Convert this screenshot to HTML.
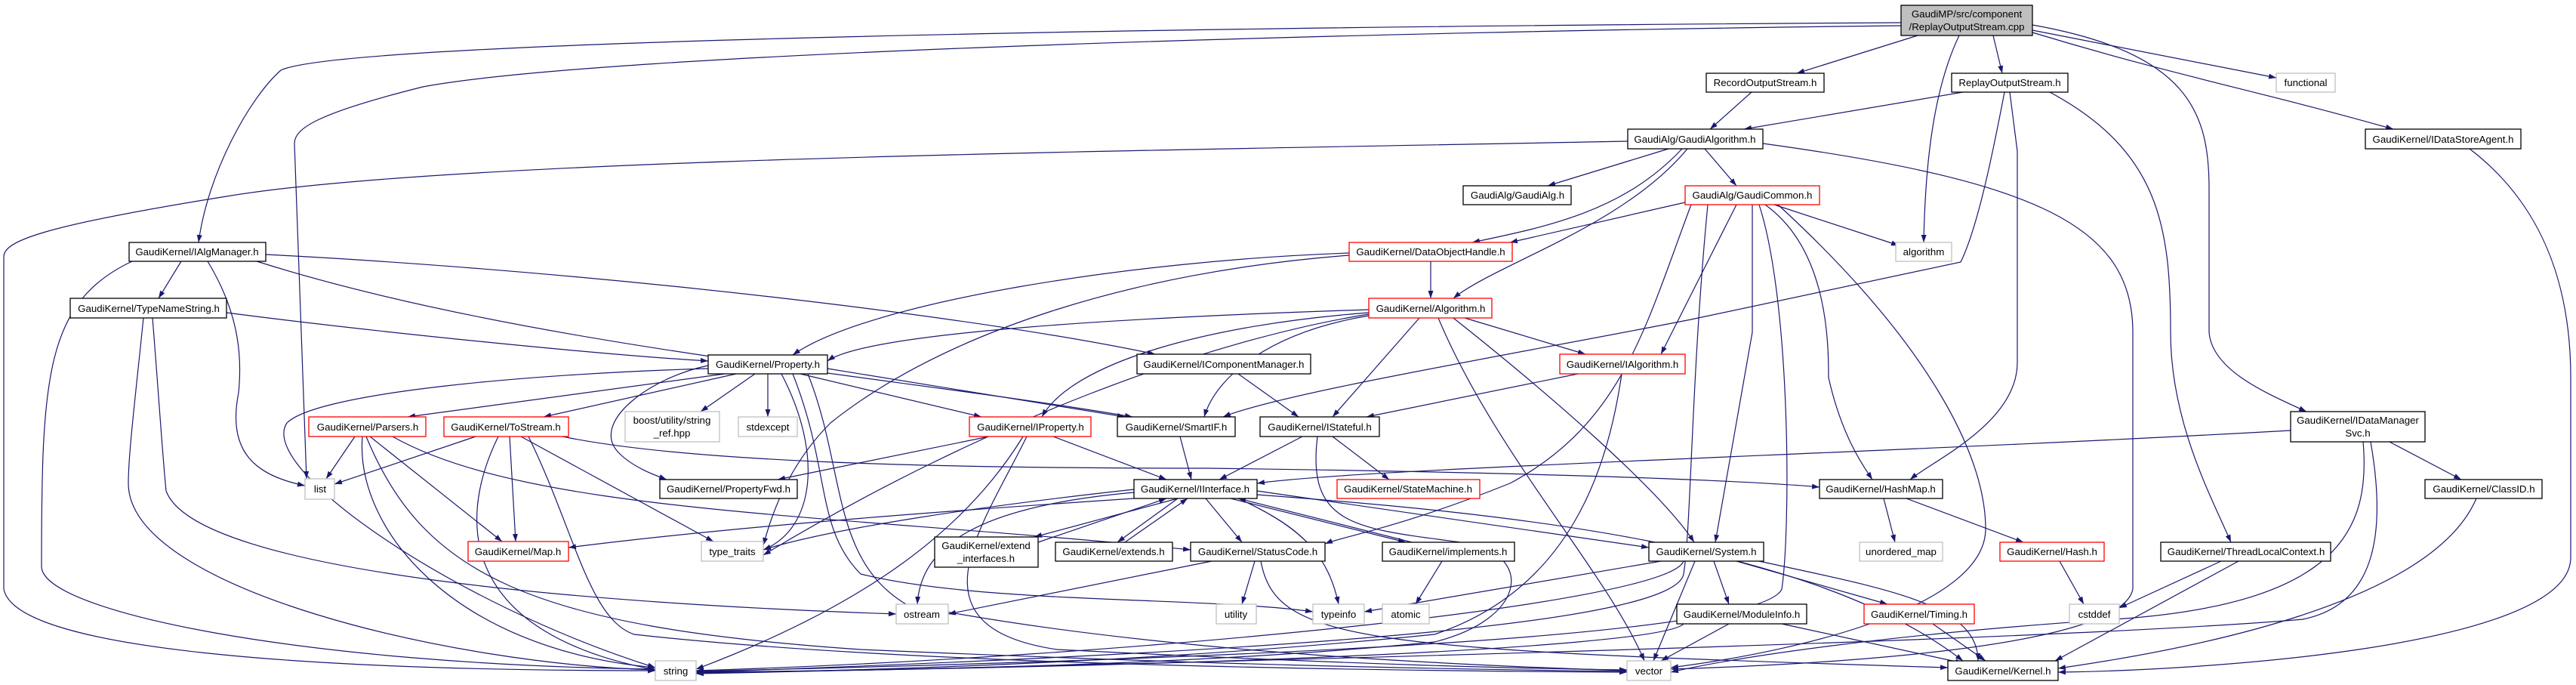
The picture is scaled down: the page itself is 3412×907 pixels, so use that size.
<!DOCTYPE html>
<html><head><meta charset="utf-8"><style>
html,body{margin:0;padding:0;background:#fff;}
svg{display:block;}
text{font-family:"Liberation Sans",Arial,sans-serif;font-size:13.3px;fill:#000;}
</style></head><body>
<svg width="3412" height="907" viewBox="0 0 3412 907" xmlns="http://www.w3.org/2000/svg">
<defs>
<marker id="a" viewBox="0 0 10 10" refX="10" refY="5" markerWidth="10" markerHeight="10" markerUnits="userSpaceOnUse" orient="auto">
<path d="M0,1.5 L10,5 L0,8.5 z" fill="#191970"/>
</marker>
</defs>
<g fill="none" stroke="#191970" stroke-width="1.2" marker-end="url(#a)">
<path d="M2540,47 L2380,97"/>
<path d="M2640,47 L2652,97"/>
<path d="M2692,40 L3015,103"/>
<path d="M2692,43 C2880,100 2990,120 3170,171"/>
<path d="M2692,33 C2900,70 2926,150 2926,250 L2926,440 C2930,490 3000,520 3055,545"/>
<path d="M2595,47 C2560,120 2550,220 2548,321"/>
<path d="M2518,30 C1500,36 450,55 372,93 C330,130 275,230 263,321"/>
<path d="M2518,34 C1800,42 800,70 560,115 C420,150 390,170 390,190 L406,634"/>
<path d="M2320,122 L2265,171"/>
<path d="M2600,122 L2310,171"/>
<path d="M2662,122 L2672,200 L2672,480 C2672,560 2560,610 2530,635"/>
<path d="M2655,122 C2640,200 2620,300 2597,347 L2240,423 C2000,470 1700,520 1620,552"/>
<path d="M2715,122 C2860,200 2875,300 2875,440 C2875,560 2930,660 2955,718"/>
<path d="M2210,197 L2050,246"/>
<path d="M2228,197 C2150,280 2050,300 1950,321"/>
<path d="M2235,197 C2150,300 1980,350 1925,395"/>
<path d="M2258,197 L2300,246"/>
<path d="M2335,190 C2700,240 2825,300 2825,440 L2825,780 C2810,860 2400,880 2213,886"/>
<path d="M2156,187 C1500,200 600,210 300,260 C50,300 5,320 5,340 L5,780 C20,860 400,888 868,888"/>
<path d="M2232,268 L2000,321"/>
<path d="M2350,271 L2515,325"/>
<path d="M2300,271 L2200,469"/>
<path d="M2321,271 L2321,440 L2272,718"/>
<path d="M2330,271 C2372,400 2372,700 2360,780 C2330,850 1500,875 922,889"/>
<path d="M2338,271 C2420,330 2422,450 2422,500 C2440,580 2470,620 2480,635"/>
<path d="M2355,271 C2550,450 2630,600 2630,700 C2630,800 2400,860 2213,884"/>
<path d="M2240,271 C2180,430 2150,560 2000,640 C1850,700 1780,710 1755,720"/>
<path d="M2262,271 C2240,500 2240,700 2230,760 C2220,820 1800,860 922,890"/>
<path d="M1895,346 L1895,395"/>
<path d="M1787,335 C1500,345 1150,400 1050,470"/>
<path d="M1787,338 C1500,360 1250,440 1100,560 C1040,620 1020,690 1011,722"/>
<path d="M1813,410 C1500,420 1150,440 1096,478"/>
<path d="M1813,414 C1600,430 1420,480 1380,552"/>
<path d="M1813,418 C1680,440 1610,500 1595,552"/>
<path d="M1940,421 L2100,469"/>
<path d="M1880,421 L1765,552"/>
<path d="M1905,421 C1980,600 2130,760 2178,875"/>
<path d="M1925,421 C2050,520 2200,650 2244,718"/>
<path d="M1813,416 C1600,450 1300,560 1011,735"/>
<path d="M240,346 L210,395"/>
<path d="M175,346 C60,400 55,500 55,750 C55,810 400,880 868,886"/>
<path d="M275,346 C320,420 320,480 316,520 C300,600 340,630 404,643"/>
<path d="M352,337 C800,360 1300,420 1530,469"/>
<path d="M340,346 C700,460 1200,500 1500,552"/>
<path d="M300,414 C500,440 800,470 938,478"/>
<path d="M190,421 C180,520 170,600 170,640 C170,780 600,880 868,887"/>
<path d="M202,421 C210,520 215,600 220,650 C260,760 800,800 1187,813"/>
<path d="M960,495 L540,552"/>
<path d="M975,495 L720,552"/>
<path d="M1000,495 L928,545"/>
<path d="M1017,495 L1017,552"/>
<path d="M938,484 C860,500 780,560 820,600 C840,620 870,630 883,635"/>
<path d="M1060,495 L1300,552"/>
<path d="M1096,488 L1490,552"/>
<path d="M938,488 C700,495 420,520 380,560 C340,620 600,800 868,884"/>
<path d="M1035,495 C1090,600 1080,700 1011,728"/>
<path d="M1050,495 C1100,620 1080,700 1140,760 C1300,800 1600,790 1739,810"/>
<path d="M1070,495 C1120,620 1100,740 1200,800 C1500,860 1900,880 2155,888"/>
<path d="M470,578 L432,634"/>
<path d="M490,578 L665,717"/>
<path d="M480,578 C470,700 600,860 868,884"/>
<path d="M485,578 C560,760 700,830 1140,860 C1600,880 1900,886 2155,889"/>
<path d="M520,578 C700,680 1100,680 1577,728"/>
<path d="M630,578 L443,641"/>
<path d="M675,578 L683,717"/>
<path d="M660,578 C600,700 620,840 868,887"/>
<path d="M690,578 L945,717"/>
<path d="M700,578 C760,700 780,820 840,840 C1200,880 1800,888 2155,890"/>
<path d="M745,578 C900,610 1200,620 1600,620 C2000,625 2300,635 2410,645"/>
<path d="M1395,578 L1545,635"/>
<path d="M1310,578 L1030,635"/>
<path d="M1355,578 C1280,700 1150,800 922,886"/>
<path d="M1360,578 C1300,700 1200,830 1400,860 C1800,880 2000,885 2155,887"/>
<path d="M1563,578 L1578,635"/>
<path d="M1725,578 L1615,635"/>
<path d="M1765,578 L1840,635"/>
<path d="M1745,578 C1730,700 1800,700 1950,720 C2030,740 2020,820 1900,850 C1600,880 1200,888 922,890"/>
<path d="M1640,495 L1720,552"/>
<path d="M2090,495 L1810,552"/>
<path d="M2148,495 C2130,620 2080,780 1900,840 C1500,880 1100,889 922,891"/>
<path d="M3034,570 C2500,600 1800,620 1665,640"/>
<path d="M3165,585 L3260,635"/>
<path d="M3130,585 C3140,700 3100,800 2800,820 C2500,840 2300,870 2213,890"/>
<path d="M3140,585 C3160,700 3150,800 3050,820 C2700,850 1500,880 922,892"/>
<path d="M2495,660 L2510,718"/>
<path d="M2525,660 L2680,718"/>
<path d="M1375,718 L1545,660"/>
<path d="M1560,660 L1370,711"/>
<path d="M1490,718 L1573,660"/>
<path d="M1560,660 L1480,718"/>
<path d="M1870,718 L1640,660"/>
<path d="M1630,660 L1862,718"/>
<path d="M1597,660 L1645,718"/>
<path d="M1665,650 L2184,725"/>
<path d="M1665,655 C2000,680 2400,720 2600,875"/>
<path d="M1640,660 C1730,700 1760,740 1773,800"/>
<path d="M1502,652 C1300,670 1220,720 1215,800"/>
<path d="M1502,660 C1200,680 950,700 753,725"/>
<path d="M1502,648 C1300,670 1100,700 1011,728"/>
<path d="M1605,743 L1256,813"/>
<path d="M1662,743 L1645,800"/>
<path d="M1670,743 C1690,850 1800,860 2580,884"/>
<path d="M1910,743 L1875,800"/>
<path d="M2200,743 L1807,810"/>
<path d="M2230,743 C2210,800 1500,870 922,888"/>
<path d="M2245,743 L2190,875"/>
<path d="M2270,743 L2290,800"/>
<path d="M2300,743 L2500,800"/>
<path d="M2330,743 C2500,780 2620,800 2620,875"/>
<path d="M2290,826 L2200,875"/>
<path d="M2360,826 L2600,878"/>
<path d="M2230,826 C2200,860 1500,885 922,890"/>
<path d="M2560,826 L2630,875"/>
<path d="M2728,743 L2760,800"/>
<path d="M2942,743 L2807,805"/>
<path d="M2965,743 L2722,875"/>
<path d="M3280,660 C3220,800 2900,860 2726,885"/>
<path d="M3271,197 C3380,280 3405,400 3405,500 L3405,740 C3400,860 2900,888 2726,890"/>
</g>
<g stroke-width="1.3">
<rect x="2518" y="7" width="174" height="40" fill="#bfbfbf" stroke="#000"/>
<text x="2605" y="23" text-anchor="middle">GaudiMP/src/component</text>
<text x="2605" y="40" text-anchor="middle">/ReplayOutputStream.cpp</text>
<rect x="2260" y="97" width="156" height="25" fill="#fff" stroke="#000"/><text x="2338" y="114" text-anchor="middle">RecordOutputStream.h</text>
<rect x="2585" y="97" width="154" height="25" fill="#fff" stroke="#000"/><text x="2662" y="114" text-anchor="middle">ReplayOutputStream.h</text>
<rect x="3015" y="97" width="78" height="25" fill="#fff" stroke="#bfbfbf"/><text x="3054" y="114" text-anchor="middle">functional</text>
<rect x="3133" y="171" width="206" height="26" fill="#fff" stroke="#000"/><text x="3236" y="189" text-anchor="middle">GaudiKernel/IDataStoreAgent.h</text>
<rect x="2156" y="171" width="179" height="26" fill="#fff" stroke="#000"/><text x="2245" y="189" text-anchor="middle">GaudiAlg/GaudiAlgorithm.h</text>
<rect x="1938" y="246" width="143" height="25" fill="#fff" stroke="#000"/><text x="2010" y="263" text-anchor="middle">GaudiAlg/GaudiAlg.h</text>
<rect x="2232" y="246" width="178" height="25" fill="#fff" stroke="#f00"/><text x="2321" y="263" text-anchor="middle">GaudiAlg/GaudiCommon.h</text>
<rect x="2511" y="321" width="74" height="25" fill="#fff" stroke="#bfbfbf"/><text x="2548" y="338" text-anchor="middle">algorithm</text>
<rect x="1787" y="321" width="216" height="25" fill="#fff" stroke="#f00"/><text x="1895" y="338" text-anchor="middle">GaudiKernel/DataObjectHandle.h</text>
<rect x="1813" y="395" width="163" height="26" fill="#fff" stroke="#f00"/><text x="1895" y="413" text-anchor="middle">GaudiKernel/Algorithm.h</text>
<rect x="171" y="321" width="181" height="25" fill="#fff" stroke="#000"/><text x="261" y="338" text-anchor="middle">GaudiKernel/IAlgManager.h</text>
<rect x="93" y="395" width="207" height="26" fill="#fff" stroke="#000"/><text x="197" y="413" text-anchor="middle">GaudiKernel/TypeNameString.h</text>
<rect x="938" y="470" width="158" height="25" fill="#fff" stroke="#000"/><text x="1017" y="487" text-anchor="middle">GaudiKernel/Property.h</text>
<rect x="1506" y="469" width="230" height="26" fill="#fff" stroke="#000"/><text x="1621" y="487" text-anchor="middle">GaudiKernel/IComponentManager.h</text>
<rect x="2066" y="469" width="166" height="26" fill="#fff" stroke="#f00"/><text x="2149" y="487" text-anchor="middle">GaudiKernel/IAlgorithm.h</text>
<rect x="3034" y="545" width="178" height="40" fill="#fff" stroke="#000"/>
<text x="3123" y="561" text-anchor="middle">GaudiKernel/IDataManager</text>
<text x="3123" y="578" text-anchor="middle">Svc.h</text>
<rect x="409" y="552" width="155" height="26" fill="#fff" stroke="#f00"/><text x="487" y="570" text-anchor="middle">GaudiKernel/Parsers.h</text>
<rect x="588" y="552" width="165" height="26" fill="#fff" stroke="#f00"/><text x="670" y="570" text-anchor="middle">GaudiKernel/ToStream.h</text>
<rect x="828" y="545" width="125" height="40" fill="#fff" stroke="#bfbfbf"/>
<text x="890" y="561" text-anchor="middle">boost/utility/string</text>
<text x="890" y="578" text-anchor="middle">_ref.hpp</text>
<rect x="978" y="552" width="78" height="26" fill="#fff" stroke="#bfbfbf"/><text x="1017" y="570" text-anchor="middle">stdexcept</text>
<rect x="1284" y="552" width="161" height="26" fill="#fff" stroke="#f00"/><text x="1365" y="570" text-anchor="middle">GaudiKernel/IProperty.h</text>
<rect x="1480" y="552" width="156" height="26" fill="#fff" stroke="#000"/><text x="1558" y="570" text-anchor="middle">GaudiKernel/SmartIF.h</text>
<rect x="1669" y="552" width="158" height="26" fill="#fff" stroke="#000"/><text x="1748" y="570" text-anchor="middle">GaudiKernel/IStateful.h</text>
<rect x="404" y="634" width="39" height="27" fill="#fff" stroke="#bfbfbf"/><text x="424" y="652" text-anchor="middle">list</text>
<rect x="874" y="635" width="182" height="25" fill="#fff" stroke="#000"/><text x="965" y="652" text-anchor="middle">GaudiKernel/PropertyFwd.h</text>
<rect x="1502" y="635" width="163" height="25" fill="#fff" stroke="#000"/><text x="1583" y="652" text-anchor="middle">GaudiKernel/IInterface.h</text>
<rect x="1771" y="635" width="189" height="25" fill="#fff" stroke="#f00"/><text x="1865" y="652" text-anchor="middle">GaudiKernel/StateMachine.h</text>
<rect x="2410" y="635" width="163" height="25" fill="#fff" stroke="#000"/><text x="2491" y="652" text-anchor="middle">GaudiKernel/HashMap.h</text>
<rect x="3212" y="635" width="155" height="25" fill="#fff" stroke="#000"/><text x="3290" y="652" text-anchor="middle">GaudiKernel/ClassID.h</text>
<rect x="620" y="717" width="133" height="26" fill="#fff" stroke="#f00"/><text x="686" y="735" text-anchor="middle">GaudiKernel/Map.h</text>
<rect x="929" y="717" width="82" height="26" fill="#fff" stroke="#bfbfbf"/><text x="970" y="735" text-anchor="middle">type_traits</text>
<rect x="1238" y="711" width="137" height="40" fill="#fff" stroke="#000"/>
<text x="1306" y="727" text-anchor="middle">GaudiKernel/extend</text>
<text x="1306" y="744" text-anchor="middle">_interfaces.h</text>
<rect x="1398" y="718" width="155" height="25" fill="#fff" stroke="#000"/><text x="1475" y="735" text-anchor="middle">GaudiKernel/extends.h</text>
<rect x="1577" y="718" width="178" height="25" fill="#fff" stroke="#000"/><text x="1666" y="735" text-anchor="middle">GaudiKernel/StatusCode.h</text>
<rect x="1831" y="718" width="175" height="25" fill="#fff" stroke="#000"/><text x="1918" y="735" text-anchor="middle">GaudiKernel/implements.h</text>
<rect x="2184" y="718" width="152" height="25" fill="#fff" stroke="#000"/><text x="2260" y="735" text-anchor="middle">GaudiKernel/System.h</text>
<rect x="2463" y="718" width="110" height="25" fill="#fff" stroke="#bfbfbf"/><text x="2518" y="735" text-anchor="middle">unordered_map</text>
<rect x="2649" y="718" width="138" height="25" fill="#fff" stroke="#f00"/><text x="2718" y="735" text-anchor="middle">GaudiKernel/Hash.h</text>
<rect x="2862" y="718" width="225" height="25" fill="#fff" stroke="#000"/><text x="2975" y="735" text-anchor="middle">GaudiKernel/ThreadLocalContext.h</text>
<rect x="1187" y="800" width="69" height="26" fill="#fff" stroke="#bfbfbf"/><text x="1221" y="818" text-anchor="middle">ostream</text>
<rect x="1611" y="800" width="53" height="26" fill="#fff" stroke="#bfbfbf"/><text x="1637" y="818" text-anchor="middle">utility</text>
<rect x="1739" y="800" width="68" height="26" fill="#fff" stroke="#bfbfbf"/><text x="1773" y="818" text-anchor="middle">typeinfo</text>
<rect x="1831" y="800" width="62" height="26" fill="#fff" stroke="#bfbfbf"/><text x="1862" y="818" text-anchor="middle">atomic</text>
<rect x="2221" y="800" width="172" height="26" fill="#fff" stroke="#000"/><text x="2307" y="818" text-anchor="middle">GaudiKernel/ModuleInfo.h</text>
<rect x="2469" y="800" width="146" height="26" fill="#fff" stroke="#f00"/><text x="2542" y="818" text-anchor="middle">GaudiKernel/Timing.h</text>
<rect x="2741" y="800" width="66" height="26" fill="#fff" stroke="#bfbfbf"/><text x="2774" y="818" text-anchor="middle">cstddef</text>
<rect x="868" y="875" width="54" height="26" fill="#fff" stroke="#bfbfbf"/><text x="895" y="893" text-anchor="middle">string</text>
<rect x="2155" y="875" width="58" height="26" fill="#fff" stroke="#bfbfbf"/><text x="2184" y="893" text-anchor="middle">vector</text>
<rect x="2580" y="875" width="146" height="26" fill="#fff" stroke="#000"/><text x="2653" y="893" text-anchor="middle">GaudiKernel/Kernel.h</text>
</g>
</svg>
</body></html>
